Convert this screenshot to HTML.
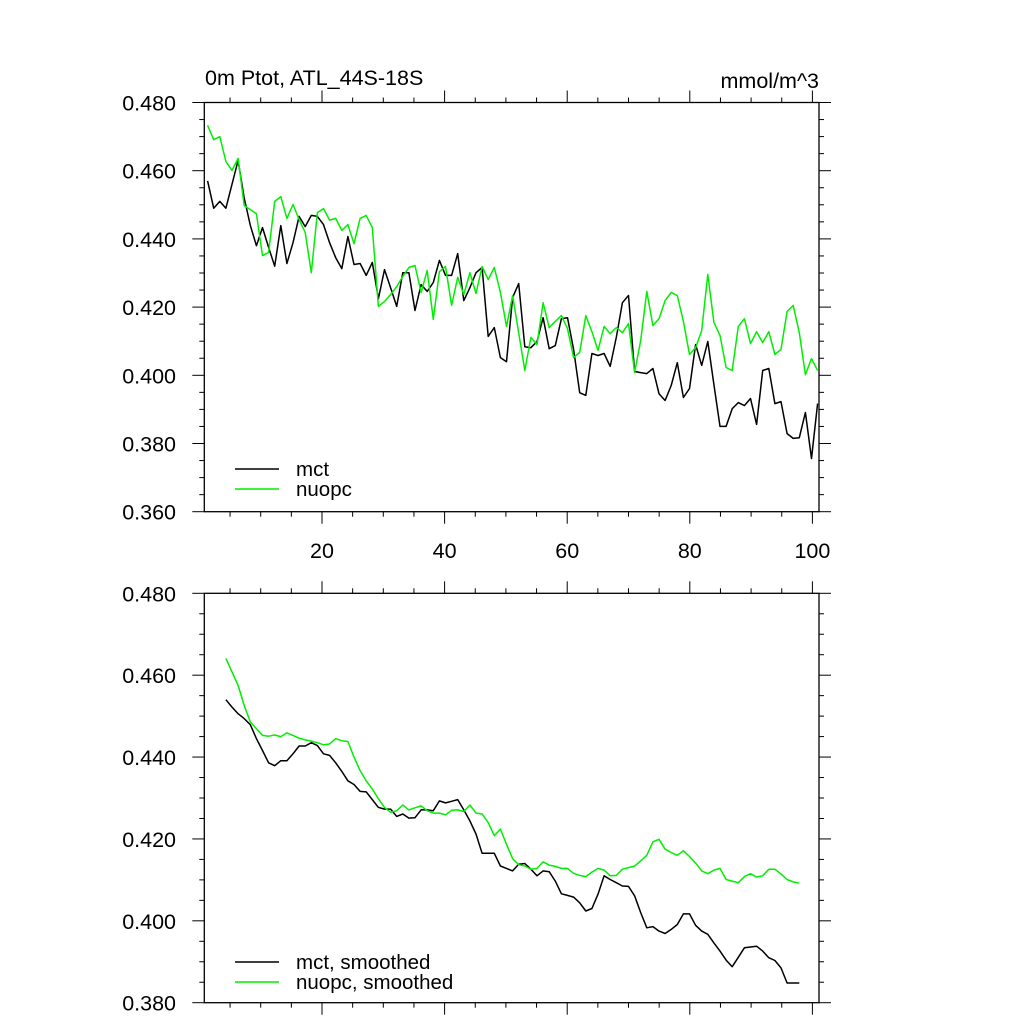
<!DOCTYPE html>
<html><head><meta charset="utf-8"><style>
html,body{margin:0;padding:0;background:#fff;}
svg{display:block;font-family:"Liberation Sans",sans-serif;}
</style></head><body>
<svg id="c" width="1024" height="1024" viewBox="0 0 1024 1024"></svg>
<script>
const mctRaw = [.457,.449,.451,.449,.456,.463,.452,.444,.438,.4433,.4375,.432,.4439,.4328,.4389,.4466,.4436,.4469,.4466,.4442,.4389,.4345,.4313,.4407,.4325,.4328,.4293,.4331,.4225,.431,.4257,.4202,.4301,.4301,.419,.4266,.4246,.4272,.4337,.4293,.4293,.4357,.4219,.4257,.4301,.4316,.4114,.414,.4052,.404,.4228,.4269,.4084,.4081,.4099,.4169,.4078,.4087,.4166,.4169,.4076,.3949,.3941,.4064,.4058,.4064,.4026,.4111,.4213,.4234,.4011,.4008,.4005,.402,.3946,.3926,.397,.4037,.3935,.3961,.409,.4029,.4099,.3973,.385,.385,.3902,.392,.3911,.3932,.3856,.4014,.402,.3917,.3923,.3829,.3815,.3817,.3891,.3756,.3917];
const nuopcRaw = [.4733,.4691,.47,.4627,.4601,.4636,.4498,.4486,.4474,.4351,.436,.451,.4524,.446,.4501,.4457,.4419,.4301,.4477,.4489,.4455,.446,.4425,.4442,.4386,.446,.4469,.4433,.4202,.4216,.4237,.426,.429,.4316,.4322,.4243,.4307,.4164,.4304,.4319,.4205,.4287,.4237,.4301,.424,.4319,.4281,.4316,.4243,.4143,.4234,.4125,.4014,.4111,.409,.4213,.414,.4158,.4175,.4137,.4052,.4067,.4175,.4128,.4073,.4143,.4122,.414,.4125,.4152,.4008,.4102,.4246,.4146,.4166,.4219,.4243,.4234,.4158,.4061,.4081,.4131,.4296,.4155,.4117,.4023,.4014,.4143,.4166,.4093,.4128,.4096,.4128,.4061,.4076,.4187,.4205,.4125,.4002,.4049,.4014];
const smoothStart = 4;
const mctSmooth = [.454,.4522,.4506,.4494,.4479,.4445,.4416,.4386,.4379,.4391,.4391,.4408,.4427,.4427,.4435,.4428,.4408,.4404,.4386,.4365,.4342,.4333,.4316,.4315,.4296,.4277,.4273,.4273,.4255,.4261,.4251,.4252,.4271,.4271,.4269,.4293,.4288,.4292,.4296,.4271,.4244,.4212,.4165,.4165,.4165,.4134,.4128,.4122,.4138,.414,.4126,.411,.4122,.412,.4097,.4066,.4062,.4058,.4044,.4024,.403,.4065,.411,.4101,.4093,.4085,.4084,.4061,.402,.3983,.3986,.3975,.3969,.3979,.3991,.4017,.4017,.3989,.3975,.3967,.3946,.3926,.3904,.3888,.3911,.3934,.3936,.3938,.3926,.391,.3903,.3885,.3848,.3848,.3848];
const nuopcSmooth = [.4641,.4608,.4575,.4526,.4486,.4469,.4453,.4451,.4454,.445,.4459,.4453,.4446,.4442,.4439,.4435,.443,.4432,.4445,.444,.4438,.44,.4367,.4342,.4322,.4298,.4277,.4265,.4269,.4283,.4271,.4276,.4281,.4269,.4263,.4263,.4259,.427,.4271,.4267,.4283,.4263,.4261,.424,.4208,.4224,.4187,.4152,.4137,.4134,.4126,.4128,.4144,.4136,.4133,.4128,.4128,.4116,.4111,.4108,.4119,.4128,.4124,.411,.4111,.4126,.413,.4134,.4146,.416,.4193,.4199,.4175,.4167,.416,.4171,.4157,.4141,.4122,.4115,.4124,.4128,.4101,.4097,.4093,.4108,.4115,.4107,.411,.4126,.4126,.4114,.4101,.4095,.4092];
const topYTicks = [0.36,0.38,0.40,0.42,0.44,0.46,0.48];
const botYTicks = [0.38,0.40,0.42,0.44,0.46,0.48];
const xTickLabels = [20,40,60,80,100];

const NS="http://www.w3.org/2000/svg";
const svg=document.getElementById('c');
function mk(tag,attrs,parent){const e=document.createElementNS(NS,tag);for(const k in attrs)e.setAttribute(k,attrs[k]);(parent||svg).appendChild(e);return e;}
const L=204.3,R=819;
const xs=v=>199.4+6.13*v;
const xd=v=>201.5+6.1*v;
function panel(name,top,bottom,ymin,ymax){
  const g=mk('g',{});
  
  
  const ys=v=>bottom-(v-ymin)/(ymax-ymin)*(bottom-top);
  const fr=mk('rect',{x:L,y:top,width:R-L,height:bottom-top,fill:'none',stroke:'#000','stroke-width':1.3},g);
  
  
  for(let v=5;v<=100;v+=5){const x=xs(v);const maj=v%20===0;const len=maj?12:5;
    mk('line',{x1:x,x2:x,y1:top,y2:top-len,stroke:'#000','stroke-width':1},g);
    mk('line',{x1:x,x2:x,y1:bottom,y2:bottom+len,stroke:'#000','stroke-width':1},g);}
  const step=0.005;
  for(let v=ymin;v<=ymax+1e-9;v+=step){const y=ys(v);const maj=Math.abs(Math.round(v/0.02)*0.02-v)<1e-6;const len=maj?12:5;
    mk('line',{x1:L,x2:L-len,y1:y,y2:y,stroke:'#000','stroke-width':1},g);
    mk('line',{x1:R,x2:R+len,y1:y,y2:y,stroke:'#000','stroke-width':1},g);}
  return {g,ys};
}
function line(g,arr,start,ys,color,nm){
  const pts=arr.map((v,i)=>xd(start+i).toFixed(1)+','+ys(v).toFixed(1)).join(' ');
  const p=mk('polyline',{points:pts,fill:'none',stroke:color,'stroke-width':1.5,'stroke-linejoin':'round'},g);
  
  
}
function text(s,x,y,anchor,nm,size){const t=mk('text',{x:x,y:y,'text-anchor':anchor,'font-size':size||21.5,fill:'#000'});t.textContent=s;
  
  
  return t;}

const p1=panel('top-panel',102.5,511.7,0.36,0.48);
topYTicks.forEach(v=>text(v.toFixed(3),176,p1.ys(v)+8,'end','top-y-tick-label'));
xTickLabels.forEach(v=>text(String(v),xs(v),558,'middle','x-tick-label'));
line(p1.g,mctRaw,1,p1.ys,'#000','mct-line');
line(p1.g,nuopcRaw,1,p1.ys,'#00ee00','nuopc-line');
text('0m Ptot, ATL_44S-18S',205,85,'start','plot-title',21.5);
text('mmol/m^3',819,88,'end','units-label',21.5);

const p2=panel('bottom-panel',593.3,1002.7,0.38,0.48);
botYTicks.forEach(v=>text(v.toFixed(3),176,p2.ys(v)+8,'end','bottom-y-tick-label'));
line(p2.g,mctSmooth,smoothStart,p2.ys,'#000','mct-smoothed-line');
line(p2.g,nuopcSmooth,smoothStart,p2.ys,'#00ee00','nuopc-smoothed-line');

function legend(y1,y2,l1,l2,nm){
  const g=mk('g',{});
  
  
  mk('line',{x1:235,x2:279,y1:y1,y2:y1,stroke:'#000','stroke-width':1.6},g);
  mk('line',{x1:235,x2:279,y1:y2,y2:y2,stroke:'#00ee00','stroke-width':1.6},g);
  const a=mk('text',{x:296,y:y1+7,'font-size':20.5},g);a.textContent=l1;
  
  
  const b=mk('text',{x:296,y:y2+7,'font-size':20.5},g);b.textContent=l2;
  
  
}
legend(469,489,'mct','nuopc','top-legend');
legend(962,982,'mct, smoothed','nuopc, smoothed','bottom-legend');
</script>
</body></html>
